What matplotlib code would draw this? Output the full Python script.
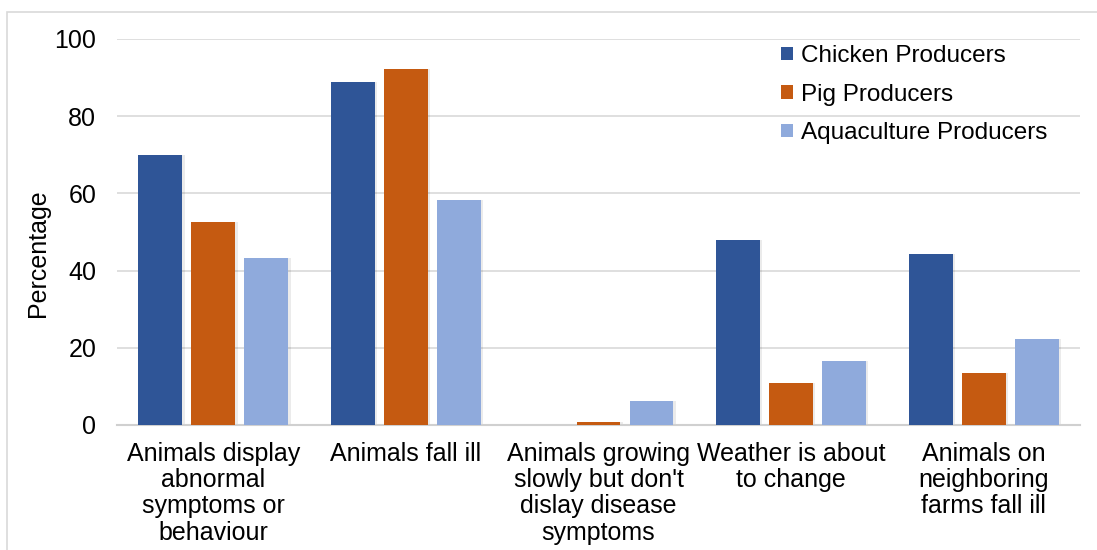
import numpy as np
import matplotlib.pyplot as plt
from matplotlib.patches import Rectangle

plt.rcParams['font.family'] = ['Liberation Sans', 'DejaVu Sans']

# data
categories = ['Animals display\nabnormal\nsymptoms or\nbehaviour',
              'Animals fall ill',
              "Animals growing\nslowly but don't\ndislay disease\nsymptoms",
              'Weather is about\nto change',
              'Animals on\nneighboring\nfarms fall ill']
chicken = [69.9, 88.9, 0.0, 47.9, 44.2]
pig = [52.6, 92.2, 0.9, 10.8, 13.6]
aqua = [43.3, 58.2, 6.1, 16.6, 22.4]
series_names = ['Chicken Producers', 'Pig Producers', 'Aquaculture Producers']
colors = ['#2F5597', '#C55A11', '#8FAADC']

W, H = 1097, 550
fig = plt.figure(figsize=(W / 100, H / 100), dpi=100)

# plot area in pixels: x 117..1080, y 39..425
ax = fig.add_axes([117 / W, 1 - 425 / H, (1080 - 117) / W, (425 - 39) / H])

x = np.arange(len(categories))
bw = 0.228
pitch = 0.275
for k, vals in enumerate([chicken, pig, aqua]):
    # faint shadow like the office chart
    ax.bar(x + (k - 1) * pitch + 0.012, vals, width=bw, color='#000000', alpha=0.08,
           zorder=2)
    ax.bar(x + (k - 1) * pitch, vals, width=bw, color=colors[k], label=series_names[k],
           zorder=3)

ax.set_xlim(-0.5, len(categories) - 0.5)
ax.set_ylim(0, 100)
ax.set_yticks(np.arange(0, 101, 20))
ax.yaxis.grid(True, color='#D9D9D9', linewidth=1.2)
ax.set_axisbelow(True)
for s in ['top', 'right', 'left']:
    ax.spines[s].set_visible(False)
ax.spines['bottom'].set_color('#D0D0D0')
ax.spines['bottom'].set_linewidth(1.5)
ax.tick_params(axis='both', length=0, labelsize=18, colors='black')
ax.tick_params(axis='y', pad=15)
ax.tick_params(axis='x', pad=12)
ax.set_xticks(x)
ax.set_xticklabels(categories, fontsize=18, linespacing=1.12)

fig.text(38 / W, 1 - 253 / H, 'Percentage', rotation=90, fontsize=18,
         ha='center', va='center')

leg = ax.legend(loc='upper left', bbox_to_anchor=((766 - 117) / (1080 - 117), 1.022),
                frameon=False, fontsize=17.5, handlelength=0.5, handleheight=0.5,
                handletextpad=0.35, labelspacing=0.68, borderaxespad=0.2)

# light border of the chart area
fig.patches.append(Rectangle((7 / W, -0.1), 1.2, 1 - 12 / H + 0.1, transform=fig.transFigure,
                             fill=False, edgecolor='#D9D9D9', linewidth=1.2))

fig.savefig('out.png', dpi=100)
